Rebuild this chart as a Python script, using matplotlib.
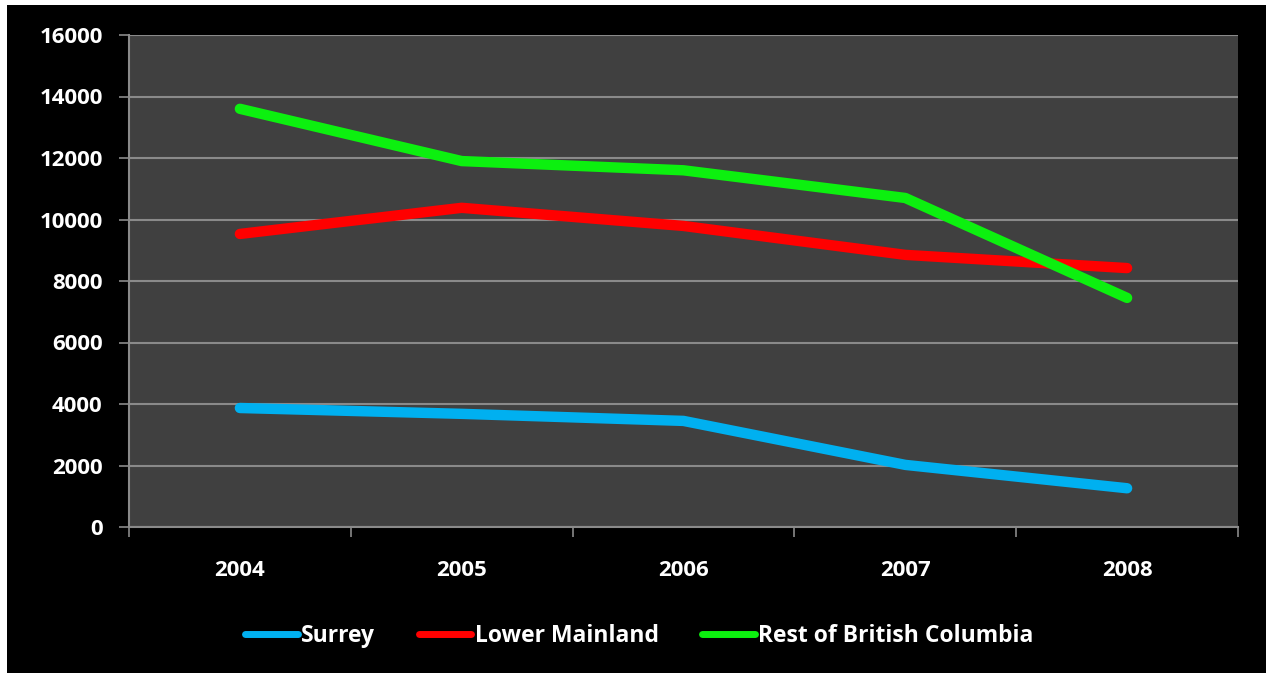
import matplotlib
matplotlib.use('Agg')
import matplotlib.pyplot as plt
from matplotlib.patches import Rectangle

# yearly counts by region
years = ['2004', '2005', '2006', '2007', '2008']
surrey = [3870, 3680, 3450, 2020, 1260]
lower_mainland = [9530, 10380, 9790, 8850, 8420]
rest_of_bc = [13600, 11900, 11600, 10700, 7450]

series_names = ['Surrey', 'Lower Mainland', 'Rest of British Columbia']
series_colors = ['#00b0f0', '#ff0000', '#0cf00f']

plt.rcParams['font.family'] = ['Open Sans', 'DejaVu Sans']
plt.rcParams['font.weight'] = 'bold'

W, H = 1266, 673
fig = plt.figure(figsize=(W / 100, H / 100), dpi=100, facecolor='white')
# black slide background with a thin white margin on the top/left
bg = Rectangle((7 / W, 0), 1, 1 - 5 / H, transform=fig.transFigure,
               facecolor='black', edgecolor='none', zorder=-10)
fig.add_artist(bg)

ax = fig.add_axes([129 / W, (H - 527) / H, (1238 - 129) / W, (527 - 35) / H])
ax.set_facecolor('#404040')

x = list(range(len(years)))
for vals, name, col in zip([surrey, lower_mainland, rest_of_bc], series_names, series_colors):
    ax.plot(x, vals, color=col, lw=7.5, solid_capstyle='round',
            solid_joinstyle='round', label=name, zorder=3)

ax.set_xlim(-0.5, len(years) - 0.5)
ax.set_ylim(0, 16000)
ax.set_yticks(range(0, 16001, 2000))
ax.yaxis.grid(True, color='#8a8a8a', lw=1.5)
ax.set_axisbelow(True)

# category boundaries get tick marks, centres get the year labels
ax.set_xticks([i - 0.5 for i in range(len(years) + 1)])
ax.set_xticklabels([])
ax.set_xticks(x, minor=True)
ax.set_xticklabels(years, minor=True, fontweight='bold')
for lbl in ax.get_yticklabels():
    lbl.set_fontweight('bold')
ax.tick_params(axis='x', which='major', length=7, width=1.2, color='#8a8a8a')
ax.tick_params(axis='x', which='minor', length=0, pad=24, labelsize=16,
               labelcolor='white')
ax.tick_params(axis='y', length=7, width=1.2, color='#8a8a8a', pad=12,
               labelsize=16, labelcolor='white')

for side in ['top', 'right']:
    ax.spines[side].set_visible(False)
for side in ['left', 'bottom']:
    ax.spines[side].set_color('#8a8a8a')
    ax.spines[side].set_linewidth(1.5)

leg = fig.legend(loc='center', bbox_to_anchor=(0.505, 1 - 636 / H), ncol=3,
                 frameon=False, handlelength=2.3, handletextpad=0.15,
                 columnspacing=1.9, labelcolor='white',
                 prop={'size': 16.5, 'weight': 'bold'})
for line in leg.get_lines():
    line.set_linewidth(5)

fig.savefig('out.png', dpi=100, facecolor=fig.get_facecolor())
